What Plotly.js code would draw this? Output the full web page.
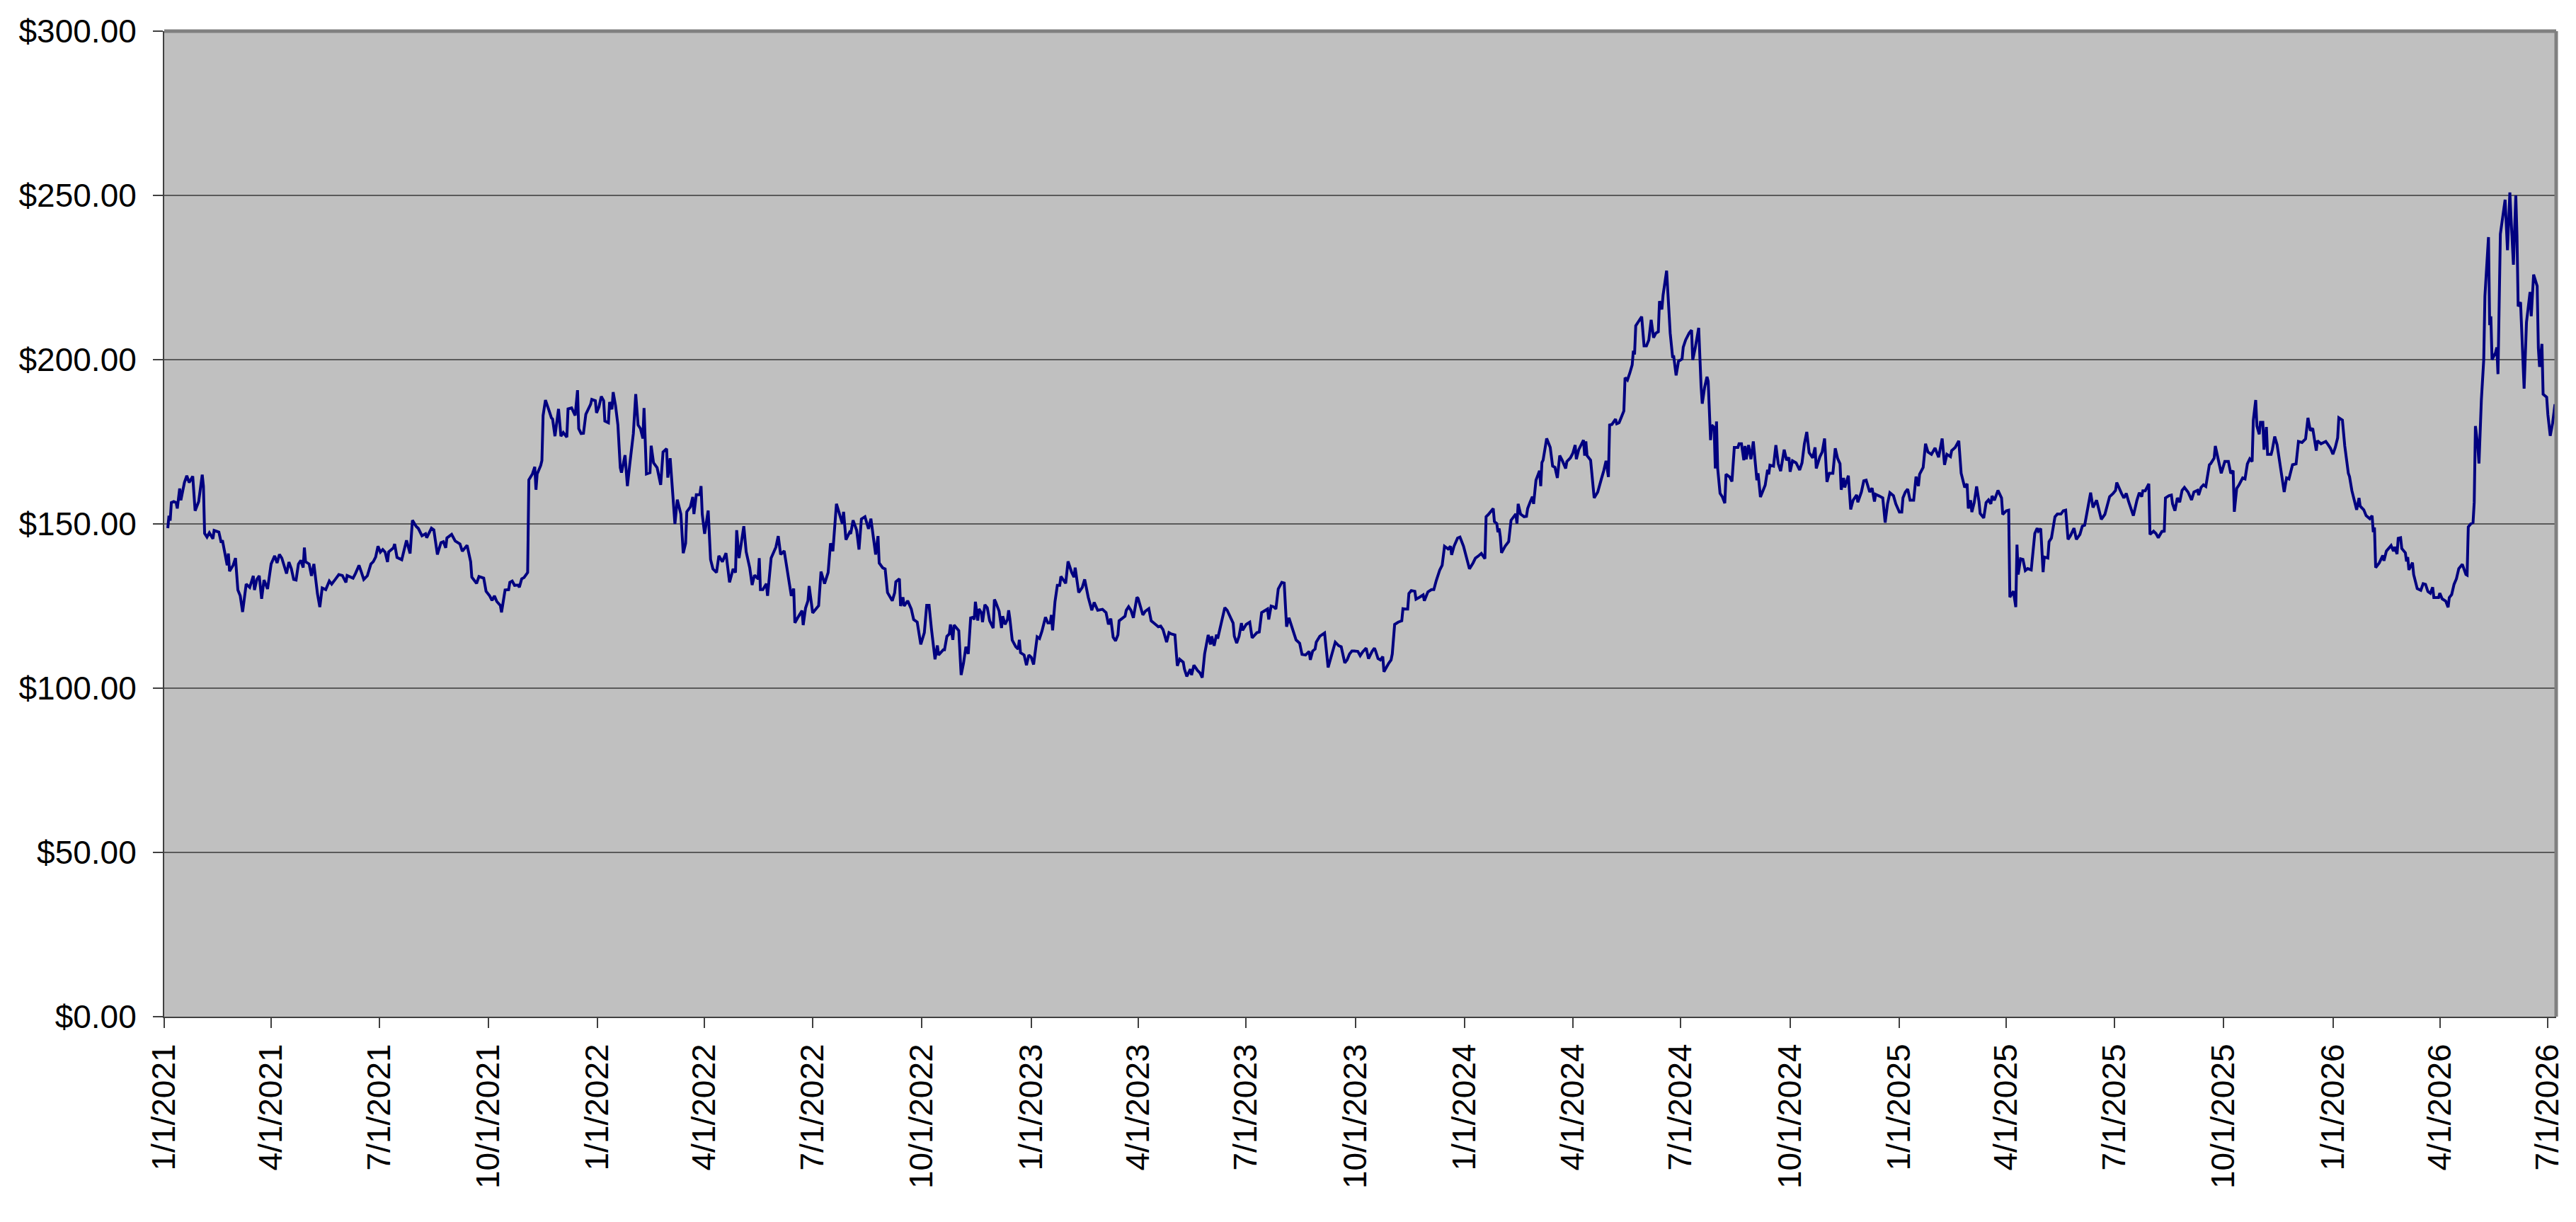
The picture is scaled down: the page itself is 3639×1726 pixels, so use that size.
<!DOCTYPE html>
<html>
<head>
<meta charset="utf-8">
<script src="https://cdn.plot.ly/plotly-3.0.1.min.js"></script>
<style>
  html, body { margin: 0; padding: 0; background: #fff; }
  #chart { width: 3639px; height: 1726px; }
</style>
</head>
<body>
<div id="chart"></div>
<script>
// closing price, split by year
// days = calendar days after 1/1/2021
const days2021 = [3,4,5,6,8,10,11,13,14,17,19,21,24,26,29,32,33,34,36,38,41,42,46,48,49,53,54,55,58,60,62,64,66,68,69,72,75,76,78,80,82,84,87,90,93,95,97,99,103,105,107,109,111,113,115,117,118,119,122,124,126,129,131,133,136,139,141,144,147,150,153,154,159,161,164,166,168,171,174,176,178,180,182,184,186,188,189,193,194,196,200,202,204,207,209,212,214,217,220,221,225,227,230,233,235,237,238,242,245,249,251,255,258,259,263,265,269,271,274,276,278,280,283,284,287,290,291,293,295,298,299,301,303,306,307,310,312,313,314,317,318,319,321,324,326,327,329,332,334,336,339,340,343,346,348,349,351,353,355,359,360,363,364]
const price2021 = [148.7,152.5,151,156.5,156.8,156.5,154.7,160.8,157.2,162.6,164.7,162.6,164.5,154,156.8,165,161.5,147.1,146,147.3,145.5,148,147.5,144.3,145,137.4,141,135.6,137.4,139.6,129.9,128.1,123.2,129.2,131.7,130.7,134.2,129.9,133.1,134.2,127.2,132.9,130.2,137.8,140.3,138.1,140.7,139.6,134.9,138.4,136.4,133.1,132.9,137.8,138.9,136.7,142.8,138.5,137.8,134.2,137.8,128.8,124.7,130.5,130,132.6,131.7,133.1,134.6,134.3,132.2,134.3,133.5,134.9,137.4,135.3,133.1,134.2,137.8,138.5,139.9,143.2,141.4,142.2,141.4,138.4,141.5,142.7,143.9,139.8,139.1,142.1,145,141,151.1,149.3,148.6,146.4,147,145.8,148.7,148.2,140.7,144.3,144.6,142.7,145.7,146.8,144.8,143.9,141.7,143.5,138.5,133.8,131.9,134,133.5,129.5,128.1,126.7,128.1,126.4,125.2,123.1,129.9,130,132.2,132.6,131.3,131.4,130.7,133.3,133.7,135.2,163.4,165.2,167.4,160.4,165.2,167.8,169.3,183,187.7,184.5,182.3,181.9,176.7,185,176.7,177.8,176.4,185,185.3,183,190.7,179,177.5,177.6,183.4,186.4,187.9,187.5,183.8]

const days2022 = [366,368,370,371,374,375,377,378,380,382,384,385,388,390,392,395,397,399,401,403,404,406,409,410,412,415,418,420,423,424,426,430,432,435,437,439,440,443,445,446,448,451,452,453,455,458,460,462,465,467,470,473,476,479,481,482,484,486,488,490,493,495,497,500,501,502,504,507,508,511,515,517,519,522,526,528,530,531,534,537,538,540,542,543,546,551,553,556,559,561,563,566,568,571,572,574,577,578,580,583,585,587,590,593,595,599,601,602,605,607,609,611,613,615,616,619,620,622,623,626,629,631,634,637,640,642,644,646,648,649,651,652,656,657,659,661,662,664,665,669,671,673,675,677,679,681,682,683,685,686,688,689,691,693,695,698,699,700,703,705,706,708,710,711,712,714,717,719,720,721,724,726,728]
const price2022 = [185.6,188.8,187.5,181.3,180.8,187.1,184.9,190.1,186,180.1,167.1,165.6,170.9,161.5,168.2,177.5,189.5,180.1,179,176,185.3,165.2,165.6,173.8,168.6,167.1,161.9,171.9,172.9,164.1,170,150,157.4,153,141.1,144.1,153.7,155.2,158.2,153,158.9,158.9,161.5,153,147,154.1,139.2,136.3,135.2,140.3,138.5,141.1,132.2,136.3,135.2,148.1,139.6,144.8,149.3,141.5,136.6,131.4,134.4,133.3,139.6,130,130,131.8,128.1,139.6,142.9,146.3,140.7,141.8,132.2,128.1,130.3,119.9,121.8,123.6,119.2,124.4,126.6,131.1,122.9,125.1,135.5,131.8,135.2,144.1,141.7,156.1,153.7,150,153.7,145.2,147.4,147,151.1,148.1,142.2,151.5,152.2,148.5,151.6,140.7,146.3,138.1,136.6,136.3,129.1,127.8,126.6,129,132.4,133.3,125,127.7,125,126.6,124.1,120.9,120.1,113.3,116.9,125.2,125.2,118,112.6,108.8,113,110.1,111.7,111.7,115.8,116.5,119.4,114.7,119.2,117.5,104,107.6,112.6,110.4,121.4,121.6,120.9,126.3,120.6,124.1,123,120.1,125.4,124.5,120.5,118.3,127,126.3,123.4,118.3,121.9,119.4,120.9,123.7,121.2,114.6,112.6,111.9,114.7,110.8,110.1,107,110.1]

const days2023 = [730,732,734,735,737,739,742,744,746,747,748,750,752,754,755,759,761,764,766,767,770,773,775,778,781,783,786,790,793,795,797,799,801,803,804,807,809,810,812,814,816,819,820,824,826,829,831,834,837,839,841,844,846,848,851,853,855,858,859,861,864,865,867,870,872,874,876,879,881,882,884,886,887,890,893,895,898,900,901,903,905,907,908,911,914,916,920,922,924,926,929,930,932,934,936,938,941,943,945,947,950,953,956,958,961,964,965,967,969,970,973,977,980,982,986,989,991,994,996,998,1000,1002,1005,1007,1009,1012,1014,1017,1019,1020,1022,1024,1026,1027,1029,1031,1033,1034,1036,1039,1042,1043,1045,1047,1048,1050,1053,1054,1057,1060,1061,1064,1067,1069,1071,1074,1076,1078,1081,1083,1084,1086,1089,1091,1094]
const price2023 = [109.4,107.2,111.9,115.6,115.1,117.3,121.6,119.9,119.9,122.3,117.6,126.3,131.3,131.3,134,131.9,138.6,135.3,133.8,136.7,129.1,130.7,133.1,127.7,123.7,126.1,123.7,124,123,119.4,121.2,115.5,114.4,116.2,120.5,121.2,121.9,123.7,124.8,123.7,121.4,127.7,127.3,122.3,123.4,124.2,120.5,119.6,118.7,118.9,117.8,114,116.9,116.5,116.2,106.8,108.8,107.9,105.8,103.6,105.8,104,107,105.4,104.7,103.2,110.4,116.2,113.3,115.8,112.9,116.3,115.1,119.8,124.5,123.7,121.6,119.8,115.8,113.7,115.8,119.8,117.6,119.4,120.1,115.3,116.9,117.1,123,123.4,124.1,120.9,125,124.8,124.1,130.2,132.2,132,118.7,121.4,118.3,114.7,113.7,110.3,110.1,111.2,108.6,111.3,111.9,114,115.8,116.8,106.3,109.1,114,112.9,112.6,107.7,108.6,110.4,111.3,111.3,111.2,109.9,111,112.2,109,111.2,112.2,111.3,109,108.6,109.6,105,106.5,107.6,108.6,110.4,119.4,120.1,120.5,124.2,124.1,124.1,128.8,129.7,129.5,127.1,127.7,128.4,126.6,129.3,130,130,132.7,136,137.4,143.2,142.4,143.2,140.6,143.2,145.7,146,143.2]

const days2024 = [1096,1099,1102,1104,1106,1109,1112,1113,1115,1117,1119,1120,1122,1123,1124,1125,1126,1129,1132,1134,1138,1139,1140,1142,1145,1147,1148,1150,1152,1153,1155,1158,1159,1160,1161,1164,1167,1169,1171,1173,1175,1177,1180,1181,1184,1186,1188,1189,1191,1195,1196,1197,1198,1201,1202,1204,1207,1209,1210,1212,1214,1216,1217,1219,1222,1223,1225,1227,1229,1230,1232,1234,1236,1237,1238,1239,1242,1244,1246,1248,1250,1252,1254,1256,1258,1259,1261,1262,1265,1267,1268,1270,1271,1273,1275,1278,1279,1281,1284,1286,1287,1289,1292,1294,1295,1297,1299,1300,1301,1302,1303,1305,1306,1307,1308,1310,1312,1314,1315,1318,1320,1321,1322,1325,1326,1328,1330,1331,1332,1334,1336,1338,1341,1342,1344,1348,1350,1351,1352,1355,1357,1359,1361,1364,1366,1368,1369,1371,1374,1377,1379,1381,1383,1385,1388,1390,1391,1394,1396,1398,1400,1402,1405,1407,1409,1411,1412,1414,1415,1418,1420,1422,1425,1426,1429,1431,1433,1436,1438,1440,1441,1444,1447,1449,1451,1453,1456,1458]
const price2024 = [140.6,136.3,138.1,139.6,140.1,141,139.4,152.2,152.9,153.7,154.7,150.7,150.1,147.5,148.6,146,141.2,143.2,144.6,151.1,153,150.1,156.1,153,152.2,152.3,154.7,156.6,158.3,156.1,163.3,166.2,161.5,168.7,169.4,176,173.3,167.6,167.2,164,170.8,169.4,166.9,169,170.1,171.5,174,169.7,172.6,175.5,170.8,175.1,170.8,169.4,165.4,157.9,159.7,162.9,163.6,166.1,169.2,164.3,180.1,180.3,181.9,180.5,180.8,182.6,184.4,194.5,193.8,195.9,198.4,202.7,201.6,210.3,212.1,213.1,204.2,204.2,206,212.1,206.7,208.1,208.5,217.8,215.3,219.6,227.1,215.3,208.1,200.9,200.9,195.2,199.5,200.2,203.8,206,208.1,209,199.9,203.4,209.7,192,186.6,191.6,194.8,193.4,181.2,175.5,180.1,179.4,166.9,181.2,166.9,159.3,158.2,156.3,165.1,164.3,162.9,169.7,173.3,173.3,174.4,174.4,169.4,173.7,169.7,174,169.7,175.1,163.3,165.4,158.2,161.8,166.5,165.1,167.9,167.6,174,168.3,166.1,172.6,169.4,170.2,165.9,169.2,168.6,166.4,168.6,174.4,178,171.7,170.1,173.3,166.9,170.4,171.9,176,162.8,165.4,165.4,173,169.9,168.3,160.4,164,161.1,164.7,154.4,157.2,158.8,156.6,159.7,163.1,163.3,159.7,160.9,156.8,159,158.5,157.9,150.4,156.1,159.5,158.6,156.1]

const days2025 = [1461,1463,1464,1466,1468,1470,1473,1475,1477,1478,1481,1483,1485,1488,1491,1494,1497,1499,1501,1504,1505,1508,1511,1513,1515,1516,1518,1519,1521,1522,1524,1526,1528,1529,1532,1534,1536,1538,1539,1541,1544,1547,1548,1551,1553,1554,1557,1559,1560,1561,1563,1565,1567,1569,1572,1573,1575,1577,1578,1580,1582,1583,1586,1587,1589,1592,1594,1597,1599,1601,1603,1605,1608,1610,1613,1615,1617,1619,1622,1624,1627,1629,1631,1634,1636,1638,1641,1643,1644,1646,1648,1650,1652,1654,1656,1658,1661,1663,1665,1666,1668,1671,1672,1675,1677,1679,1682,1684,1685,1688,1690,1691,1693,1695,1697,1699,1701,1704,1707,1709,1712,1713,1715,1717,1719,1722,1723,1726,1727,1729,1732,1735,1738,1740,1742,1743,1745,1747,1750,1752,1754,1756,1758,1759,1761,1762,1764,1765,1767,1768,1770,1771,1774,1775,1777,1779,1781,1783,1785,1787,1789,1792,1795,1797,1800,1803,1805,1807,1809,1812,1813,1816,1820,1822,1824]
const price2025 = [153.6,153.6,157.9,159.7,160.6,157.2,157.2,164.4,161.5,165.1,167.2,174.4,171.9,171.2,173.1,170.3,176,168,171.2,170.5,172.3,173.3,175.3,165.4,162.6,161.1,162.2,154.7,157.2,153.6,156.5,161.4,156.8,153.2,151.8,156.5,157.3,156.1,158.5,157.2,160.2,157.9,152.9,154,154.2,127.7,129.5,124.7,143.7,134.6,139.4,139.2,135.8,136.4,136,139.2,147.1,148.7,147.8,148.6,135.3,139.9,139.6,144.6,145.7,152.2,153,153,154,154.2,145.3,146.4,148.7,145.3,146.8,149.3,149.6,153.6,159.5,155,157.2,154.3,151.4,152.9,155.7,158.3,159.3,160.2,162.6,160.8,159.3,157.9,159.3,156.8,154.7,152.5,157.2,159.5,158.3,160.1,160.1,162.2,146.8,147.8,147.1,145.8,147.7,147.8,157.9,158.6,158.8,156.1,154,157.9,156.6,160.2,161.1,159.7,157.3,159.7,160.2,158.8,161.1,161.9,161.4,168,168.3,170,173.7,170.1,165.4,169,169,165.4,166.2,153.7,160.8,161.9,164,163.7,168.3,169.8,169,181.6,187.7,179.8,177.3,180.9,180.9,172.6,179.5,171.2,171.2,172.6,176.6,174.1,169,165.4,159.7,164,163.7,168,168.3,175.1,174.8,175.9,182.3,178.4,179.1,172.3,175.3,174.4,175.1,174.1,173]

const days2026 = [1826,1828,1830,1831,1834,1836,1839,1840,1842,1844,1846,1848,1849,1852,1854,1857,1859,1860,1861,1862,1865,1868,1869,1871,1873,1875,1877,1878,1880,1881,1883,1884,1887,1888,1889,1890,1893,1894,1897,1900,1902,1904,1906,1908,1910,1911,1915,1916,1918,1921,1923,1924,1926,1928,1930,1932,1935,1938,1939,1940,1942,1944,1945,1946,1948,1949,1951,1953,1954,1957,1958,1959,1960,1963,1964,1965,1967,1969,1971,1973,1975,1976,1978,1980,1981,1982,1984,1987,1989,1992,1993,1995,1998,1999,2000,2002,2003,2006,2007,2009,2011,2013,2014]
const price2026 = [171.2,173.3,176.2,182.3,181.6,173.7,165.4,164.4,160.1,156.8,154.3,157.9,155.4,154.3,152.5,151.6,152.5,147.5,148.9,136.7,138.1,140.4,138.8,141.7,142.5,143.4,141.7,143,140.8,145.6,145.8,142.5,141.2,138.6,139.9,136,138.2,134.6,130.3,129.8,131.8,131.6,129.4,128.9,130.7,127.6,127.6,128.9,127.2,126.5,124.6,127.6,128.5,131.6,133.3,136.4,137.7,134.6,134.4,149.1,150,150.4,156.6,179.8,173.7,168.4,187.7,200,219.3,237.3,210.5,213.2,200,202.2,203.7,195.6,238.2,243,248.7,233.3,250.9,243,228.9,250,237.7,216.2,217.5,191.2,211.4,220.6,213.2,225.9,222.4,203.5,197.8,204.8,189.5,188.6,183.3,176.8,180.7,186.4,183.3]

const tickLabels = ['1/1/2021','4/1/2021','7/1/2021','10/1/2021','1/1/2022','4/1/2022','7/1/2022','10/1/2022','1/1/2023','4/1/2023','7/1/2023','10/1/2023','1/1/2024','4/1/2024','7/1/2024','10/1/2024','1/1/2025','4/1/2025','7/1/2025','10/1/2025','1/1/2026','4/1/2026','7/1/2026']

// day offset -> ISO date string
const start = Date.UTC(2021, 0, 1)
function dayToDate(d) {
    return new Date(start + d * 86400000).toISOString().slice(0, 10)
}
// m/d/yyyy -> ISO date string
function labelToDate(s) {
    let [m, d, y] = s.split('/').map(Number)
    return new Date(Date.UTC(y, m - 1, d)).toISOString().slice(0, 10)
}

let days = [].concat(days2021, days2022, days2023, days2024, days2025, days2026)
let price = [].concat(price2021, price2022, price2023, price2024, price2025, price2026)

let trace = {
    x: days.map(dayToDate),
    y: price,
    type: 'scatter',
    mode: 'lines',
    line: { color: '#000080', width: 4 },
    hoverinfo: 'x+y'
}

const font = { family: '"Liberation Sans", Arial, sans-serif', size: 46, color: '#000' }

const layout = {
    width: 3639,
    height: 1726,
    margin: { l: 232, r: 28, t: 44, b: 290, pad: 0 },
    paper_bgcolor: '#ffffff',
    plot_bgcolor: '#c0c0c0',
    showlegend: false,
    font: font,
    xaxis: {
        type: 'date',
        range: [dayToDate(0), dayToDate(2014)],
        tickvals: tickLabels.map(labelToDate),
        ticktext: tickLabels,
        tickangle: -90,
        tickfont: font,
        ticks: 'outside',
        ticklen: 14,
        tickwidth: 2,
        tickcolor: '#404040',
        showgrid: false,
        zeroline: false,
        showline: true,
        linecolor: '#404040',
        linewidth: 2,
        ticklabelstandoff: 4
    },
    yaxis: {
        range: [0, 300],
        dtick: 50,
        tick0: 0,
        tickprefix: '$',
        tickformat: '.2f',
        tickfont: font,
        ticks: 'outside',
        ticklen: 14,
        tickwidth: 2,
        tickcolor: '#404040',
        showgrid: true,
        gridcolor: '#5a5a5a',
        gridwidth: 2,
        zeroline: false,
        showline: true,
        linecolor: '#404040',
        linewidth: 2,
        ticklabelstandoff: 14
    },
    shapes: [
        // grey frame on top and right of plot area
        { type: 'line', xref: 'paper', yref: 'paper', x0: 0, x1: 1, y0: 1, y1: 1, line: { color: '#808080', width: 5 } },
        { type: 'line', xref: 'paper', yref: 'paper', x0: 1, x1: 1, y0: 0, y1: 1, line: { color: '#808080', width: 5 } }
    ]
}

Plotly.newPlot('chart', [trace], layout, { displayModeBar: false, staticPlot: true })
</script>
</body>
</html>
